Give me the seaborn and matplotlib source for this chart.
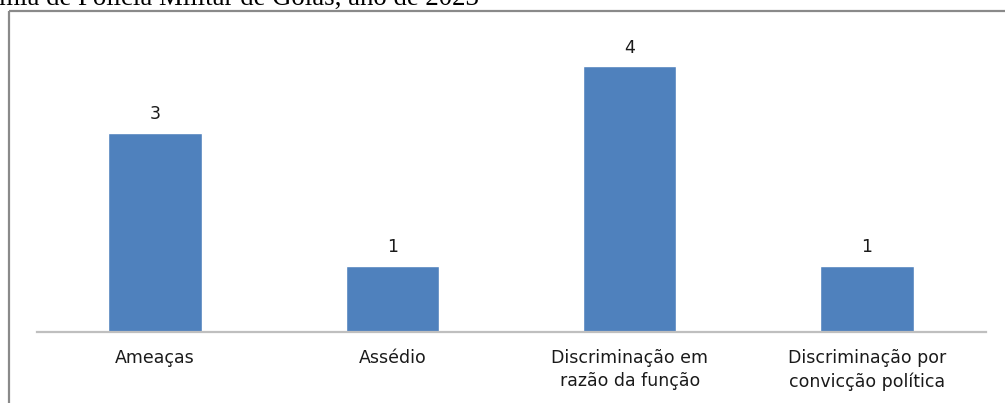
import matplotlib
matplotlib.use("Agg")
import matplotlib.pyplot as plt
import seaborn as sns
import pandas as pd
from matplotlib.lines import Line2D

categories = ["Ameaças", "Assédio", "Discriminação em\nrazão da função", "Discriminação por\nconvicção política"]
values = [3, 1, 4, 1]
title_text = "Academia de Polícia Militar de Goiás, ano de 2023"

sns.set_theme(style="white")
plt.rcParams['font.family'] = ['DejaVu Sans']

W, H = 1005, 403
fig = plt.figure(figsize=(W / 100, H / 100), dpi=100)
ax = fig.add_axes([36.5 / W, (H - 332) / H, (985.5 - 36.5) / W, 299.25 / H])

df = pd.DataFrame({"cat": categories, "val": values})
sns.barplot(data=df, x="cat", y="val", color="#4F81BD", saturation=1, width=0.395, ax=ax)
ax.set_ylim(0, 4.5)
ax.set_xlim(-0.5, len(categories) - 0.5)
ax.set_xlabel("")
ax.set_ylabel("")
ax.set_yticks([])
for s in ["top", "right", "left"]:
    ax.spines[s].set_visible(False)
ax.spines["bottom"].set_color("#BFBFBF")
ax.spines["bottom"].set_linewidth(1.6)
ax.tick_params(axis="x", length=0, pad=12.5, labelsize=12.5, colors="#1a1a1a")
for lbl in ax.get_xticklabels():
    lbl.set_linespacing(1.32)
    lbl.set_verticalalignment("top")

for i, v in enumerate(values):
    ax.annotate(str(v), (i, v), xytext=(0, 6.5), textcoords="offset points",
                ha="center", va="bottom", fontsize=12.5, color="#1a1a1a")

# outer frame (top and left visible)
fig.add_artist(Line2D([9 / W, 1.0], [1 - 10.5 / H, 1 - 10.5 / H], transform=fig.transFigure,
                      color="#8a8a8a", linewidth=1.6, solid_capstyle="butt"))
fig.add_artist(Line2D([9 / W, 9 / W], [1 - 10.5 / H, 0], transform=fig.transFigure,
                      color="#8a8a8a", linewidth=1.6, solid_capstyle="butt"))

# clipped caption above
fig.text(479 / W, 1 - 5 / H, title_text, family=["Liberation Serif", "DejaVu Serif"],
         fontsize=19.3, color="black", ha="right", va="baseline")

fig.savefig("out.png", dpi=100)
